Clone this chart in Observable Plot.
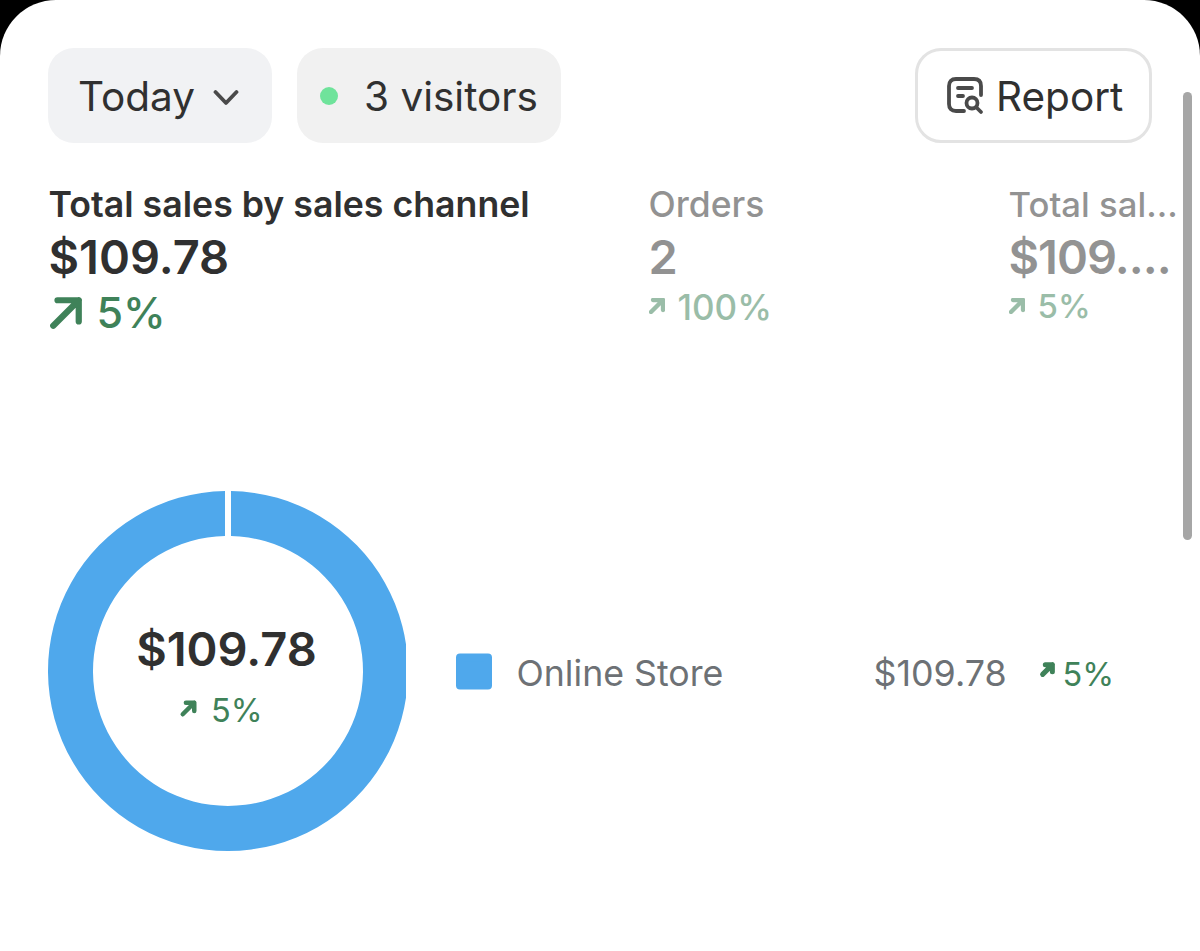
<!DOCTYPE html>
<html>
<head>
<meta charset="utf-8">
<script src="https://cdn.jsdelivr.net/npm/d3@7"></script>
<script src="https://cdn.jsdelivr.net/npm/@observablehq/plot@0.6"></script>
<style>
html,body{margin:0;padding:0;background:#000;width:1200px;height:951px;overflow:hidden}
#card{position:relative;width:1200px;height:951px;background:#fff;border-radius:56px 56px 0 0;overflow:hidden;font-family:Inter,sans-serif;color:#303030}
#card>*{position:absolute}
.pill{top:48px;height:95px;border-radius:26px;box-sizing:border-box}
#today{left:48px;width:224px;background:#f1f2f4}
#visitors{left:297px;width:264px;background:#f1f1f1}
#report{left:915px;width:237px;background:#fff;border:3px solid #e3e3e3}
.pill span{position:absolute;top:2px;line-height:94px;font-size:40.500px;font-weight:400;white-space:nowrap}
#report span{top:-1px}
.pill svg{position:absolute}
.kpi{top:0;height:340px;white-space:nowrap}
.kpi div{position:absolute;left:0;line-height:1}
.kpi .t{top:187px;font-size:35.500px;font-weight:500}
.kpi .v{top:233px;font-size:47px;font-weight:600}
.k0{left:48.500px}.k1{left:648.500px;opacity:.52}.k2{left:1008.500px;opacity:.52}
.k0 .t{font-weight:600;font-size:35.700px}
.k2 .t{font-size:34.700px}
.k2 .v{letter-spacing:-1px}
.k0 .c{top:291px;font-size:43px;color:#3f8259;font-weight:500}
.k1 .c,.k2 .c{top:290px;font-size:35px;color:#3f8259;font-weight:500}
.k2 .c{font-size:33px}
.c svg{position:absolute;top:0}
#scroll{left:1183px;top:92px;width:9px;height:448px;border-radius:5px;background:#a6a6a6}
#chart{left:0;top:491px}
</style>
</head>
<body>
<div id="card"></div>
<script>
// Data
const periodLabel = "Today";
const visitorsLabel = "3 visitors";
const reportLabel = "Report";
const kpiTitles = ["Total sales by sales channel", "Orders", "Total sal..."];
const kpiValues = ["$109.78", "2", "$109...."];
const kpiChanges = ["5%", "100%", "5%"];
const channels = ["Online Store"];
const channelSales = [109.78];
const channelChanges = ["5%"];
const totalLabel = "$109.78";
const totalChange = "5%";

const GREEN = "#3f8259", INK = "#303030", BLUE = "#4fa8ec", MUTED = "#6d7175";
const card = document.getElementById("card");

function el(parent, cls, id, html) {
  const d = document.createElement("div");
  if (cls) d.className = cls;
  if (id) d.id = id;
  if (html != null) d.innerHTML = html;
  parent.appendChild(d);
  return d;
}
const arrowSvg = (s, w, style) =>
  `<svg width="${s}" height="${s}" viewBox="-12 -12 24 24" style="${style}"><path d="M-9 9L9 -9M-6 -9H9V6" fill="none" stroke="${GREEN}" stroke-width="${w}" stroke-linecap="round" stroke-linejoin="round"/></svg>`;

// Filter buttons
el(card, "pill", "today",
  `<span style="left:30px">${periodLabel}</span>
   <svg style="left:165px;top:41px" width="26" height="18" viewBox="0 0 26 18"><path d="M2.500 3L13 14L23.500 3" fill="none" stroke="#4a4a4a" stroke-width="3.800" stroke-linecap="round" stroke-linejoin="round"/></svg>`);
el(card, "pill", "visitors",
  `<svg style="left:22px;top:38px" width="20" height="20"><circle cx="10" cy="10" r="9" fill="#6fe39b"/></svg>
   <span style="left:67px">${visitorsLabel}</span>`);
el(card, "pill", "report",
  `<svg style="left:29px;top:26px" width="38" height="38" viewBox="0 0 38 38"><g fill="none" stroke="#4a4a4a" stroke-width="3.800" stroke-linecap="round" stroke-linejoin="round"><path d="M17 34H9Q2 34 2 27V9Q2 2 9 2H27Q34 2 34 9V18"/><path d="M11 11H25M11 19H16"/><circle cx="25" cy="26" r="5.500"/><path d="M29 30L34 35"/></g></svg>
   <span style="left:78px">${reportLabel}</span>`);

// KPI columns
kpiTitles.forEach((t, i) => {
  const k = el(card, "kpi k" + i);
  el(k, "t", null, t);
  el(k, "v", null, kpiValues[i]);
  const arrow = i === 0
    ? arrowSvg(34, 4.400, "left:0.500px;top:5px")
    : arrowSvg(16, 6.500, "left:0;top:8px");
  el(k, "c", null, arrow + `<span style="position:absolute;left:${i === 0 ? 48 : 29}px">${kpiChanges[i]}</span>`);
});

el(card, null, "scroll");

// Small arrow glyph for Plot.dot, drawn from the library's symbol interface
const arrowSymbol = {
  draw(ctx, size) {
    const a = Math.sqrt(size) / 2;
    ctx.moveTo(-a, a);
    ctx.lineTo(a, -a);
    ctx.moveTo(-a * 0.45, -a);
    ctx.lineTo(a, -a);
    ctx.lineTo(a, a * 0.45);
  }
};

const table = channels.map((name, i) => ({name, sales: channelSales[i], change: channelChanges[i]}));
const color = {domain: channels, range: [BLUE]};

// The ring: one slice per channel, separated by a thin gap at 12 o'clock
function donut(index, scales, values, dimensions) {
  const g = d3.create("svg:g");
  const id = "donut-clip";
  g.append("clipPath").attr("id", id).append("rect")
    .attr("x", 0).attr("y", 0).attr("width", 406).attr("height", dimensions.height);
  const total = d3.sum(table, d => d.sales);
  const angle = d3.scaleLinear([0, total], [0, 2 * Math.PI - 1e-6]);
  const arc = d3.arc().innerRadius(135).outerRadius(180).padAngle(0.04).padRadius(150);
  let acc = 0;
  const ring = g.append("g").attr("clip-path", `url(#${id})`)
    .append("g").attr("transform", `translate(228,${dimensions.height / 2})`);
  for (const d of table) {
    ring.append("path")
      .attr("fill", scales.color(d.name))
      .attr("d", arc({startAngle: angle(acc), endAngle: angle(acc + d.sales)}));
    acc += d.sales;
  }
  return g.node();
}

const chart = Plot.plot({
  width: 1200,
  height: 360,
  margin: 0,
  color,
  style: {fontFamily: "Inter, sans-serif", background: "transparent"},
  marks: [
    donut,
    // centre label
    Plot.text([totalLabel], {frameAnchor: "left", textAnchor: "middle", lineAnchor: "bottom", dx: 226, dy: -6, fontSize: 47, fontWeight: 600, fill: INK}),
    Plot.dot([totalChange], {frameAnchor: "left", dx: 188, dy: 37, symbol: arrowSymbol, r: 6.500, stroke: GREEN, strokeWidth: 4.500, fill: "none", strokeLinecap: "round", strokeLinejoin: "round"}),
    Plot.text([totalChange], {frameAnchor: "left", textAnchor: "start", lineAnchor: "bottom", dx: 210.500, dy: 50, fontSize: 32.500, fontWeight: 400, fill: GREEN}),
    // legend row
    Plot.dot(table, {frameAnchor: "left", dx: 473.500, dy: 0, symbol: "square", r: 15.800, fill: "name", stroke: "name", strokeWidth: 8, strokeLinejoin: "round"}),
    Plot.text(table, {frameAnchor: "left", text: "name", textAnchor: "start", lineAnchor: "bottom", dx: 516, dy: 14, fontSize: 35.700, fill: MUTED}),
    Plot.text(table, {frameAnchor: "left", text: d => "$" + d.sales.toFixed(2), textAnchor: "start", lineAnchor: "bottom", dx: 873, dy: 14, fontSize: 35.800, fill: MUTED}),
    Plot.dot(table, {frameAnchor: "left", dx: 1047, dy: -2, symbol: arrowSymbol, r: 5.500, stroke: GREEN, strokeWidth: 5, fill: "none", strokeLinecap: "round", strokeLinejoin: "round"}),
    Plot.text(table, {frameAnchor: "left", text: "change", textAnchor: "start", lineAnchor: "bottom", dx: 1062, dy: 14, fontSize: 32.500, fill: GREEN})
  ]
});
chart.id = "chart";
card.appendChild(chart);
</script>
</body>
</html>
